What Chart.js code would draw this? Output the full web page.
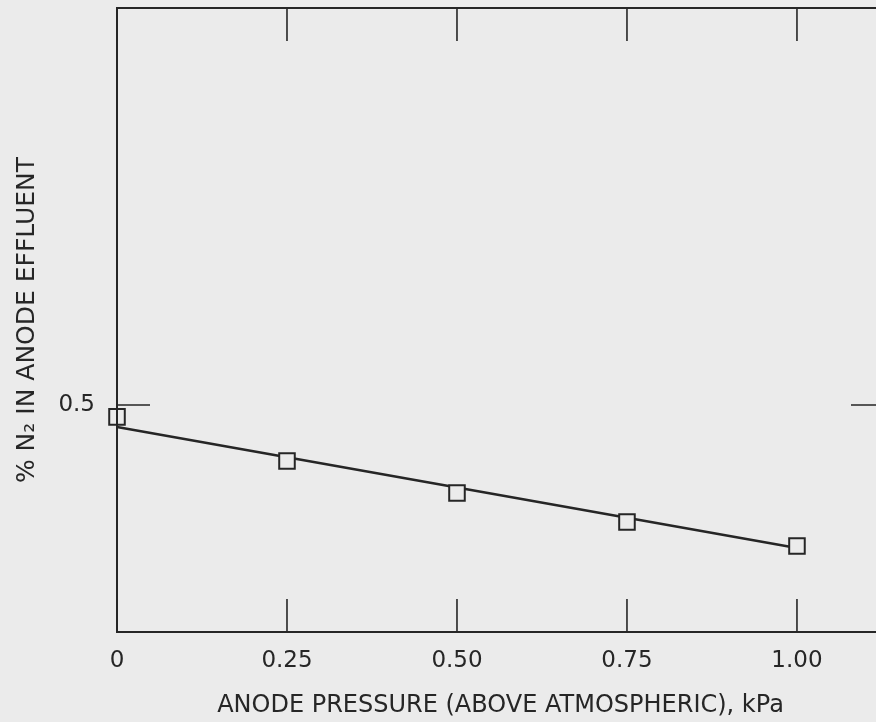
<!DOCTYPE html>
<html>
<head>
<meta charset="utf-8">
<script src="https://cdn.jsdelivr.net/npm/chart.js@4.4.1/dist/chart.umd.min.js"></script>
<style>
  html, body { margin: 0; padding: 0; overflow: hidden; background: #ebebeb; }
  .chart_wrap { width: 900px; height: 722px; }
</style>
</head>
<body>
  <div class="chart_wrap">
    <canvas id="chartN2"></canvas>
  </div>

  <script>
    // 데이터
    var pressure = [0, 0.25, 0.50, 0.75, 1.00];
    var n2Percent = [0.485, 0.4295, 0.389, 0.3526, 0.3224];
    var fitX = [0, 1.00];
    var fitY = [0.4723, 0.3199];
    var xTicks = [0, 0.25, 0.50, 0.75, 1.00];
    var xTickLabels = ['0', '0.25', '0.50', '0.75', '1.00'];
    var yTicks = [0.5];
    var yTickLabels = ['0.5'];

    var ink = '#262626';
    var font = "'DejaVu Sans', sans-serif";

    function toPoints(xs, ys) {
      return xs.map(function (x, i) { return { x: x, y: ys[i] }; });
    }

    // 프레임 + 안쪽 눈금
    var framePlugin = {
      id: 'frame',
      afterDatasetsDraw: function (chart) {
        var ctx = chart.ctx;
        var a = chart.chartArea;
        var sx = chart.scales.x;
        var sy = chart.scales.y;
        var len = 33;
        ctx.save();
        ctx.strokeStyle = ink;
        ctx.lineWidth = 2;
        ctx.strokeRect(a.left, a.top, a.right - a.left, a.bottom - a.top);
        ctx.lineWidth = 1.6;
        ctx.beginPath();
        xTicks.forEach(function (v) {
          var px = sx.getPixelForValue(v);
          ctx.moveTo(px, a.bottom);
          ctx.lineTo(px, a.bottom - len);
          ctx.moveTo(px, a.top);
          ctx.lineTo(px, a.top + len);
        });
        yTicks.forEach(function (v) {
          var py = sy.getPixelForValue(v);
          ctx.moveTo(a.left, py);
          ctx.lineTo(a.left + len, py);
          ctx.moveTo(a.right, py);
          ctx.lineTo(a.right - len, py);
        });
        ctx.stroke();
        ctx.restore();
      }
    };

    new Chart(document.getElementById('chartN2').getContext('2d'), {
      type: 'scatter',
      data: {
        datasets: [
          {
            label: 'fit',
            data: toPoints(fitX, fitY),
            showLine: true,
            borderColor: ink,
            borderWidth: 2.5,
            pointRadius: 0,
            clip: false,
            order: 2
          },
          {
            label: '% N2',
            data: toPoints(pressure, n2Percent),
            pointStyle: 'rect',
            pointRadius: 11,
            pointBorderWidth: 2,
            pointBorderColor: ink,
            pointBackgroundColor: '#ebebeb',
            clip: false,
            order: 1
          }
        ]
      },
      options: {
        responsive: true,
        maintainAspectRatio: false,
        animation: false,
        layout: { autoPadding: false, padding: { top: 8, right: 16, left: 0, bottom: 0 } },
        plugins: {
          legend: { display: false },
          tooltip: { enabled: false }
        },
        scales: {
          x: {
            type: 'linear',
            min: 0,
            max: 1.128,
            grid: { display: false, drawTicks: false },
            border: { display: false },
            afterBuildTicks: function (scale) {
              scale.ticks = xTicks.map(function (v) { return { value: v }; });
            },
            afterFit: function (scale) {
              scale.height = 90;
              scale.paddingLeft = 0;
              scale.paddingRight = 0;
            },
            ticks: {
              padding: 15,
              color: ink,
              font: { family: font, size: 23 },
              callback: function (value) {
                return xTickLabels[xTicks.indexOf(value)];
              }
            },
            title: {
              display: true,
              text: 'ANODE PRESSURE (ABOVE ATMOSPHERIC), kPa',
              color: ink,
              font: { family: font, size: 24 },
              padding: { top: 0, bottom: 2 }
            }
          },
          y: {
            type: 'linear',
            min: 0.214,
            max: 1.0,
            grid: { display: false, drawTicks: false },
            border: { display: false },
            afterBuildTicks: function (scale) {
              scale.ticks = yTicks.map(function (v) { return { value: v }; });
            },
            afterFit: function (scale) {
              scale.width = 117;
              scale.paddingTop = 0;
              scale.paddingBottom = 0;
            },
            ticks: {
              padding: 22,
              color: ink,
              font: { family: font, size: 23 },
              callback: function (value) {
                return yTickLabels[yTicks.indexOf(value)];
              }
            },
            title: {
              display: true,
              text: '% N\u2082 IN ANODE EFFLUENT',
              color: ink,
              font: { family: font, size: 25 },
              padding: { top: 12, bottom: 0 }
            }
          }
        }
      },
      plugins: [framePlugin]
    });
  </script>
</body>
</html>
